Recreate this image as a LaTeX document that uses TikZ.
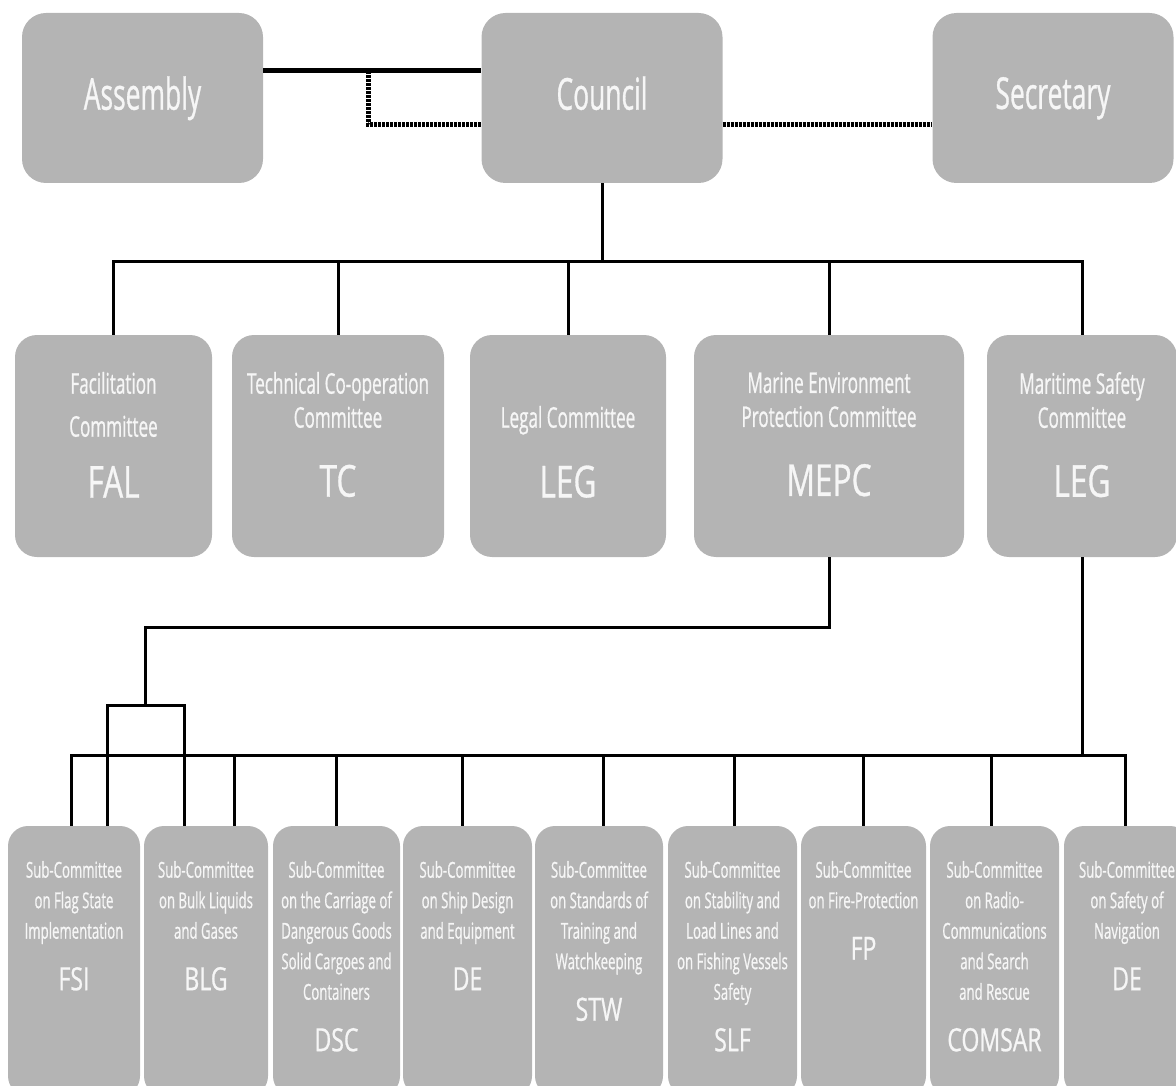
\documentclass[tikz,border=0pt]{standalone}
\usepackage{fontspec}
\setmainfont{Open Sans}[FakeStretch=0.6,FakeBold=0.7]
\newfontfamily\abbrfont{Open Sans}[FakeStretch=0.72,FakeBold=0.7]
\usepackage{xcolor}
\usetikzlibrary{positioning}
\definecolor{imogray}{RGB}{180,180,180}
\definecolor{imowhite}{RGB}{246,246,246}
\newcommand{\bigabbr}[1]{{\abbrfont\fontsize{44}{44}\selectfont #1}}
\newcommand{\subabbr}[1]{{\abbrfont\fontsize{32}{32}\selectfont #1}}
\tikzset{
  every picture/.append style={line join=miter},
  imo top/.style={fill=imogray,rounded corners=24pt,minimum width=241pt,minimum height=170pt,inner sep=0pt,text=imowhite,text depth=10pt,font=\fontsize{44}{44}\selectfont},
  imo committee/.style={fill=imogray,rounded corners=22pt,minimum height=222pt,inner sep=0pt},
  imo sub/.style={fill=imogray,rounded corners=20pt,minimum height=270pt,inner sep=0pt},
  imo text/.style={text=imowhite,align=center,inner sep=0pt,font=\fontsize{28.5}{34}\selectfont},
  imo small/.style={imo text,font=\fontsize{22}{30.5}\selectfont},
  imo link/.style={line width=3pt},
  imo bold link/.style={line width=5pt},
  imo dotted/.style={line width=5pt,dash pattern=on 3pt off 1pt}
}
\begin{document}
\begin{tikzpicture}[x=1pt,y=-1pt]
\useasboundingbox (0,0) rectangle (1176,1086);
% top row
\node[imo top] (assembly) at (142.5,98) {Assembly};
\node[imo top] (council) at (602,98) {Council};
\node[imo top] (secretary) at (1053,98) {Secretary};
\coordinate (tap) at (368,71);
\draw[imo bold link] ([yshift=27pt]assembly.east) -- ([yshift=27pt]council.west);
\draw[imo dotted] (tap) |- ([yshift=-27pt]council.west);
\draw[imo dotted] ([yshift=-27pt]council.east) -- ([yshift=-27pt]secretary.west);

% committees
\node[imo committee,minimum width=197pt] (fal) at (113.5,446) {};
\node[imo committee,minimum width=212pt] (tc) at (338,446) {};
\node[imo committee,minimum width=196pt] (leg) at (568,446) {};
\node[imo committee,minimum width=270pt] (mepc) at (829,446) {};
\node[imo committee,minimum width=190pt] (msc) at (1082,446) {};
\node[imo text,below=37pt of fal.north] (fal-t) {Facilitation\\[9pt]Committee\\[27pt]\bigabbr{FAL}};
\node[imo text,below=37pt of tc.north] (tc-t) {Technical Co-operation\\Committee\\[35pt]\bigabbr{TC}};
\node[imo text,below=71pt of leg.north] (leg-t) {Legal Committee\\[30pt]\bigabbr{LEG}};
\node[imo text,below=37pt of mepc.north] (mepc-t) {Marine Environment\\Protection Committee\\[35pt]\bigabbr{MEPC}};
\node[imo text,below=37pt of msc.north] (msc-t) {Maritime Safety\\Committee\\[35pt]\bigabbr{LEG}};

\coordinate (bus1) at (602,262);
\draw[imo link] (council.south) -- (bus1);
\foreach \n in {fal,tc,leg,mepc,msc}{
  \draw[imo link] (bus1) -| (\n.north);
}

% sub-committees
\foreach \n/\x/\w/\txt/\ab in {
  fsi/74/132/{Sub-Committee\\on Flag State\\Implementation}/FSI,
  blg/206/124/{Sub-Committee\\on Bulk Liquids\\and Gases}/BLG,
  dsc/336.5/127/{Sub-Committee\\on the Carriage of\\Dangerous Goods\\Solid Cargoes and\\Containers}/DSC,
  de/467.5/129/{Sub-Committee\\on Ship Design\\and Equipment}/DE,
  stw/599/128/{Sub-Committee\\on Standards of\\Training and\\Watchkeeping}/STW,
  slf/732.5/129/{Sub-Committee\\on Stability and\\Load Lines and\\on Fishing Vessels\\Safety}/SLF,
  fp/863.5/125/{Sub-Committee\\on Fire-Protection}/FP,
  comsar/994.5/129/{Sub-Committee\\on Radio-\\Communications\\and Search\\and Rescue}/COMSAR,
  nav/1127/126/{Sub-Committee\\on Safety of\\Navigation}/DE
}{
  \node[imo sub,minimum width=\w pt] (\n) at (\x,961) {};
  \node[imo small,below=35pt of \n.north] (\n-t) {\txt\\[21pt]\subabbr{\ab}};
}

\coordinate (bus2) at (1082,755);
\draw[imo link] (msc.south) -- (bus2);
\foreach \n/\s in {fsi/-3,blg/28,dsc/0,de/-5,stw/4,slf/2,fp/0,comsar/-3,nav/-2}{
  \draw[imo link] (bus2) -| ([xshift=\s pt]\n.north);
}

% MEPC branch
\coordinate (fork) at (145,705);
\draw[imo link] (mepc.south) -- ++(0,70) -| (fork);
\draw[imo link] ([xshift=33pt]fsi.north) |- (fork) -| ([xshift=-22pt]blg.north);
\end{tikzpicture}
\end{document}
